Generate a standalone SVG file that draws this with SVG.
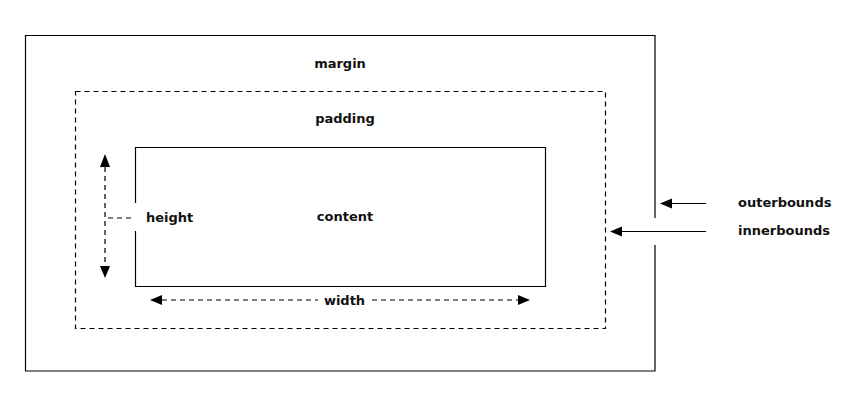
<svg xmlns="http://www.w3.org/2000/svg" width="860" height="406" viewBox="0 0 860 406">
<style>
.t{font-family:"DejaVu Sans","Liberation Sans",sans-serif;font-weight:bold;font-size:13px;fill:#111}
.s{fill:none;stroke:#000;stroke-width:1.2}
.d{fill:none;stroke:#000;stroke-width:1.2;stroke-dasharray:5 4}
</style>
<defs>
<marker id="ah" viewBox="0 0 10 10" refX="9" refY="5" markerWidth="10" markerHeight="10" markerUnits="userSpaceOnUse" orient="auto-start-reverse">
<path d="M0,0 L10,5 L0,10 Z" fill="#000"/>
</marker>
</defs>
<rect width="860" height="406" fill="#fff"/>
<g id="margin">
<path class="s" d="M655,218 V35.5 H25.5 V371 H655 V245"/>
<text class="t" x="340" y="68" text-anchor="middle">margin</text>
</g>
<g id="padding">
<rect class="d" x="75.5" y="91.5" width="530" height="237"/>
<text class="t" x="345" y="123" text-anchor="middle">padding</text>
</g>
<g id="content">
<path class="s" d="M135.5,203 V147.5 H545.5 V286.5 H135.5 V231"/>
<text class="t" x="345" y="221" text-anchor="middle">content</text>
</g>
<g id="height">
<text class="t" x="146" y="222">height</text>
</g>
<g id="width">
<text class="t" x="344.5" y="305" text-anchor="middle">width</text>
</g>
<g id="outerbounds">
<text class="t" x="738" y="207">outerbounds</text>
</g>
<g id="innerbounds">
<text class="t" x="738" y="235">innerbounds</text>
</g>
<g id="connectors">
<path class="d" d="M105,167 V266" stroke-dasharray="5 4"/>
<path d="M105,154 L100,167 H110 Z M105,278 L100,266 H110 Z" fill="#000"/>
<path class="d" d="M108,218 H134"/>
<path class="d" d="M162,300 H318"/>
<path class="d" d="M372,300 H518"/>
<path d="M150,300 L162,295 V305 Z M530,300 L518,295 V305 Z" fill="#000"/>
<path class="s" d="M706,203.5 H672"/>
<path d="M660,203.5 L672,198.5 V208.5 Z" fill="#000"/>
<path class="s" d="M706,231.5 H622"/>
<path d="M610,231.5 L622,226.5 V236.5 Z" fill="#000"/>
</g>
</svg>
